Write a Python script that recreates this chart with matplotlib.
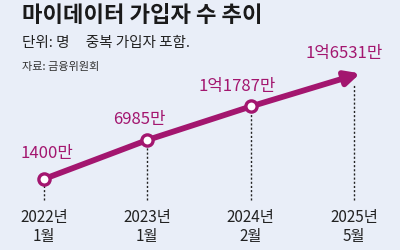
import matplotlib.pyplot as plt

plt.rcParams['font.family'] = ['Noto Sans CJK KR', 'DejaVu Sans']

periods = ["2022년\n1월", "2023년\n1월", "2024년\n2월", "2025년\n5월"]
subscribers = [1400, 6985, 11787, 16531]  # 만 명
value_labels = ["1400만", "6985만", "1억1787만", "1억6531만"]

BG = "#e9eef8"
LINE = "#a3166f"

fig = plt.figure(figsize=(4, 2.5), dpi=100, facecolor=BG)
ax = fig.add_axes([0, 0, 1, 1])
ax.set_facecolor(BG)
ax.set_xlim(-0.426, 3.445)
ax.set_ylim(-8772, 27045)
ax.axis("off")

x = list(range(len(subscribers)))
base = -1609

# dotted guides
for i, v in zip(x, subscribers):
    top = v if i < len(x) - 1 else v - 1700
    ax.vlines(i, base, top, colors="#222222", linestyles=(0, (1.5, 1.5)), linewidth=1, zorder=1)

# line with arrow on last segment
ax.plot(x[:-1], subscribers[:-1], color=LINE, linewidth=4.2, solid_capstyle="butt", zorder=2)
ax.annotate("", xy=(x[-1] + 0.06, subscribers[-1]), xytext=(x[-2], subscribers[-2]),
            arrowprops=dict(arrowstyle="-|>,head_length=0.85,head_width=0.42",
                            color=LINE, linewidth=4.2, shrinkA=0, shrinkB=0), zorder=2)
ax.scatter(x[:-1], subscribers[:-1], s=65, facecolor="white", edgecolor=LINE, linewidth=2.4, zorder=3)

# value labels
offsets = [(0.03, 3700), (-0.08, 2900), (-0.13, 2800), (-0.1, 2800)]
for i, (v, lab) in enumerate(zip(subscribers, value_labels)):
    dx, dy = offsets[i]
    ax.text(i + dx, v + dy, lab, color=LINE, fontsize=12, ha="center", va="center")

# period labels
for i, p in zip(x, periods):
    ax.text(i, -5500, p, color="#222222", fontsize=11, ha="center", va="center", linespacing=1.2)

fig.text(0.055, 0.94, "마이데이터 가입자 수 추이", fontsize=16, fontweight="bold", color="#1a1a1a", va="center")
fig.text(0.055, 0.828, "단위: 명     중복 가입자 포함.", fontsize=10.5, color="#222222", va="center")
fig.text(0.055, 0.732, "자료: 금융위원회", fontsize=8, color="#333333", va="center")

fig.savefig("out.png", dpi=100, facecolor=BG)
